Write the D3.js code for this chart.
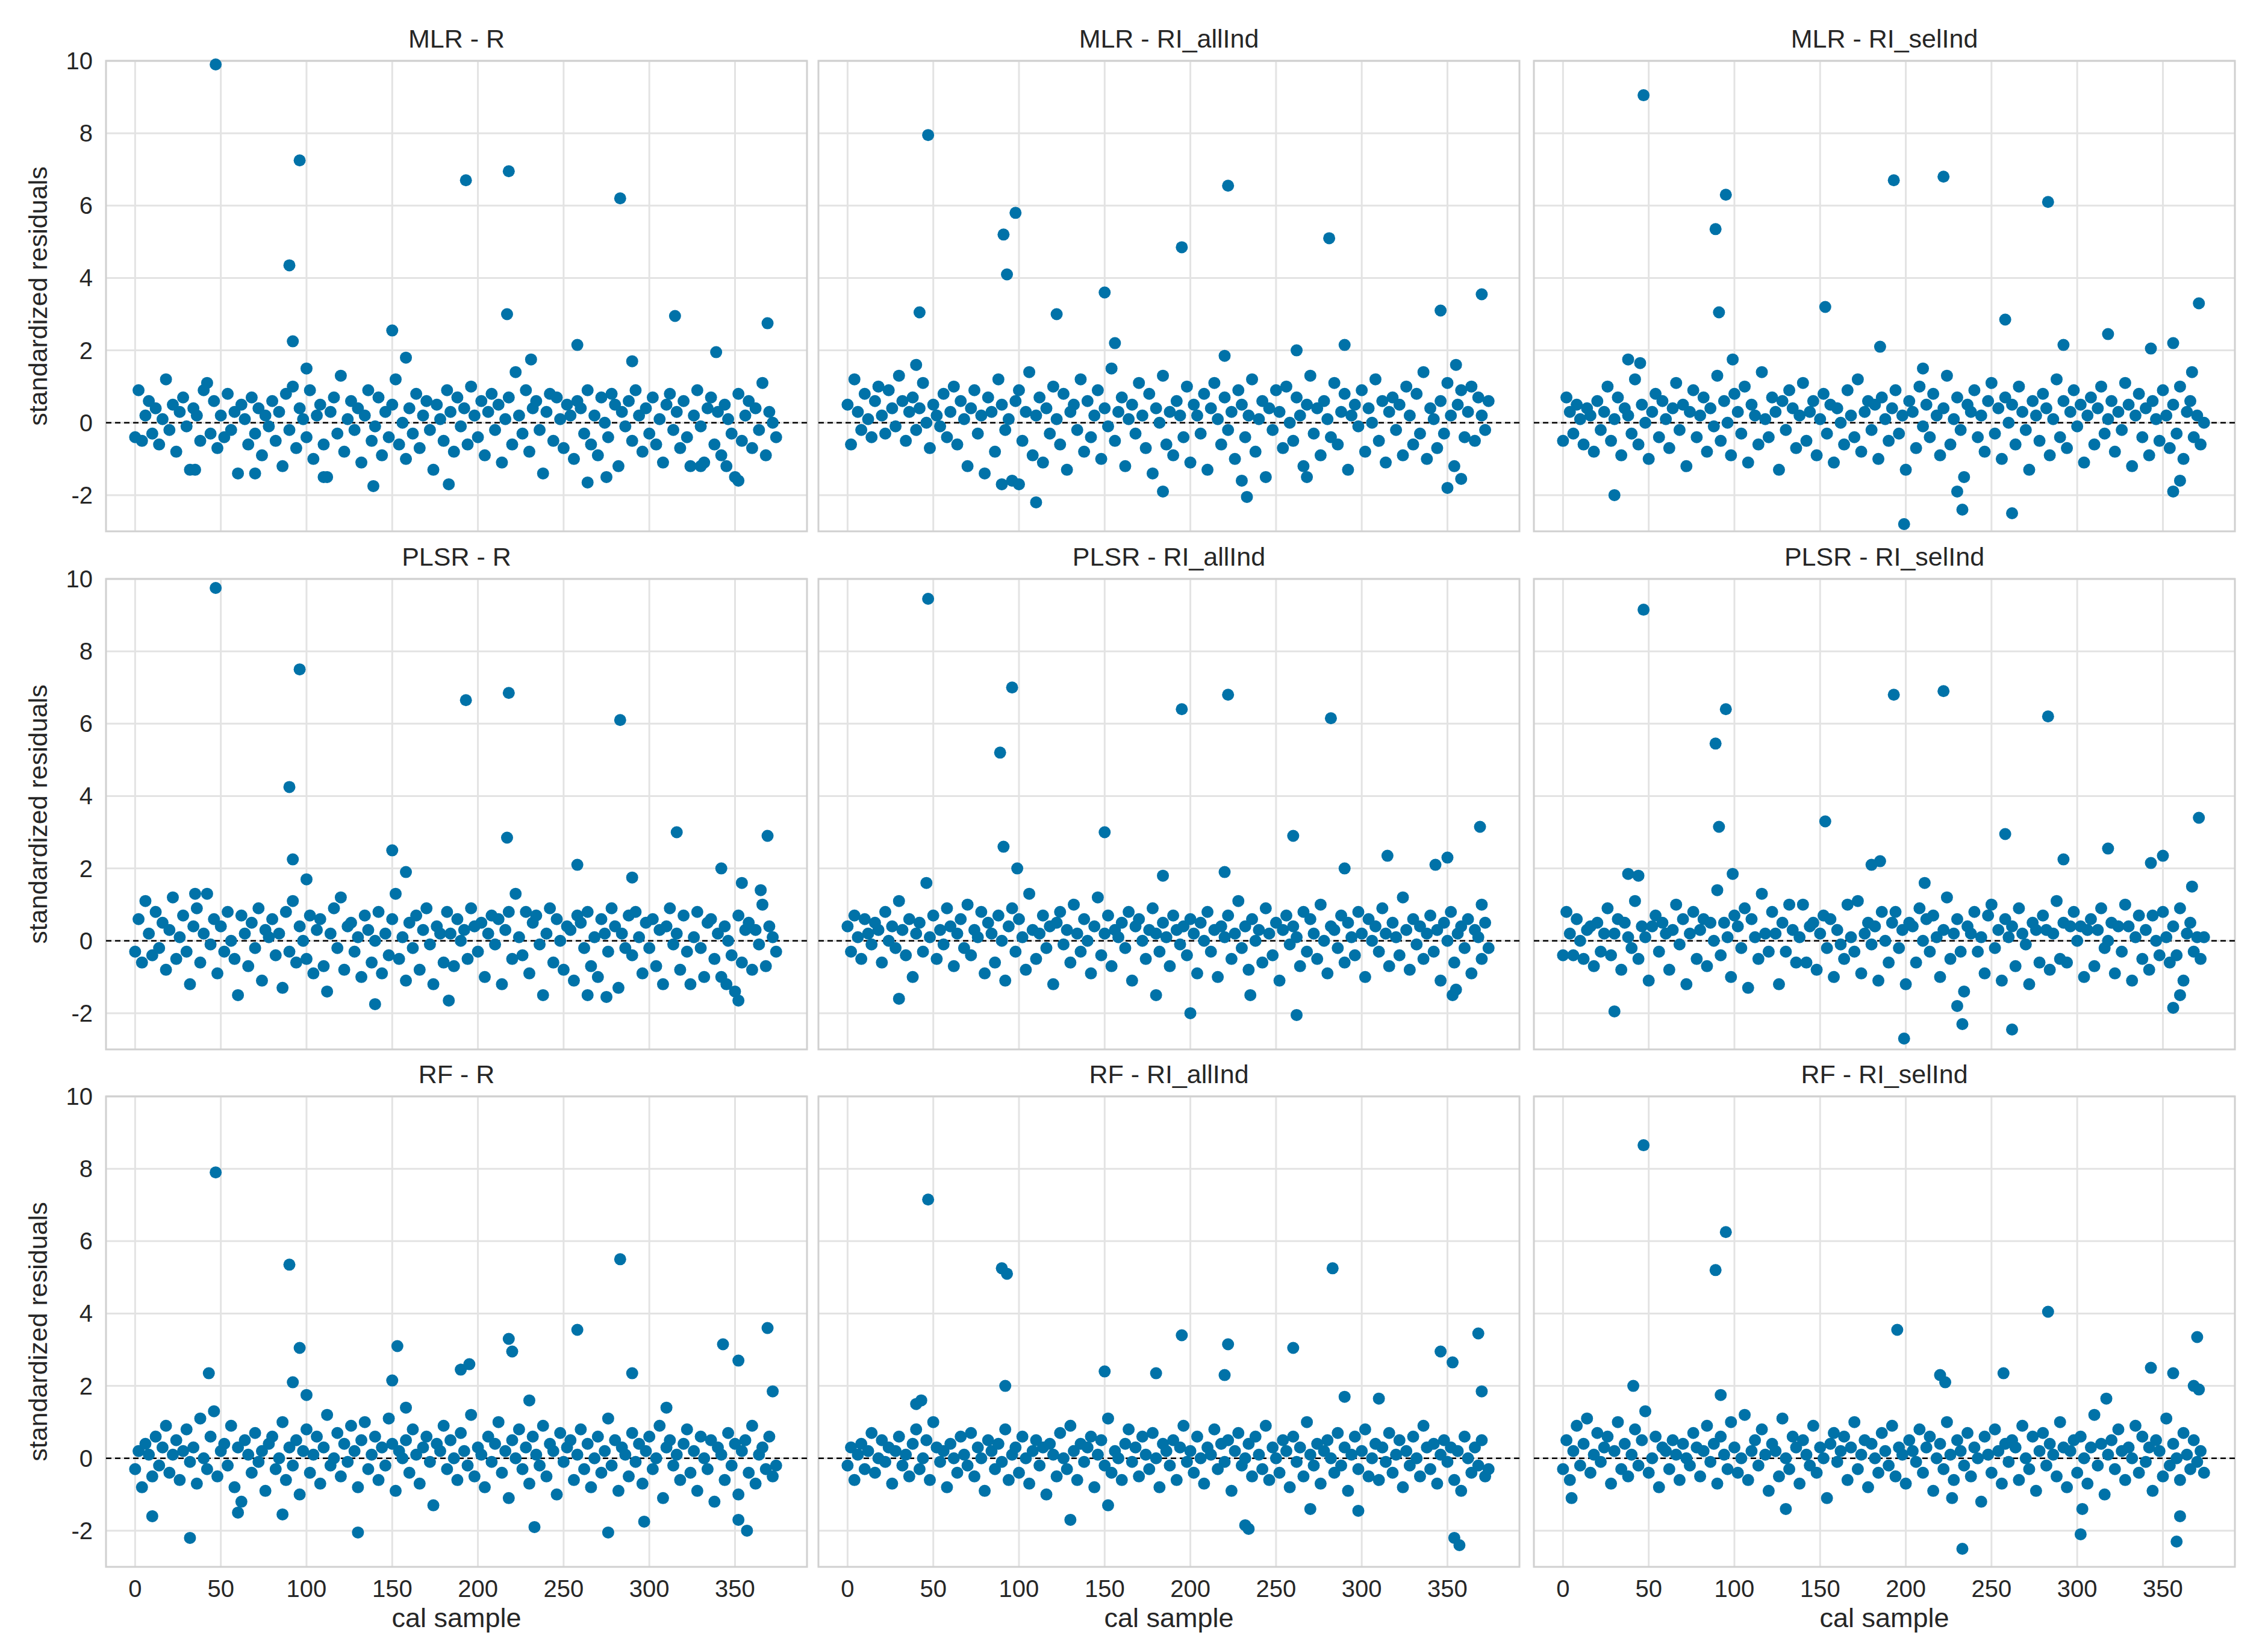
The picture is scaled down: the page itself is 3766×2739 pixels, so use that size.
<!DOCTYPE html>
<html>
<head>
<meta charset="utf-8">
<script src="https://cdn.jsdelivr.net/npm/d3@7"></script>
<style>
  body { margin: 0; background: #fff; }
  text { font-family: "Liberation Sans", Arial, sans-serif; fill: #262626; }
</style>
</head>
<body>
<svg id="chart" width="3766" height="2739"></svg>
<script>
// titles, in grid order
const titles = ["MLR - R", "MLR - RI_allInd", "MLR - RI_selInd",
  "PLSR - R", "PLSR - RI_allInd", "PLSR - RI_selInd",
  "RF - R", "RF - RI_allInd", "RF - RI_selInd"];
const xTicks = [0, 50, 100, 150, 200, 250, 300, 350];
const yTicks = [-2, 0, 2, 4, 6, 8, 10];

// bulk residuals, sample = index * 2
const bulk_MLR_R = [-0.4,0.9,-0.5,0.2,0.6,-0.3,0.4,-0.6,0.1,1.2,-0.2,0.5,-0.8,0.3,0.7,-0.1,-1.3,0.4,0.2,-0.5,0.9,1.1,-0.3,0.6,-0.7,0.2,-0.4,0.8,-0.2,0.3,-1.4,0.5,0.1,-0.6,0.7,-0.3,0.4,-0.9,0.2,-0.1,0.6,-0.5,0.3,-1.2,0.8,-0.2,1.0,-0.7,0.4,0.1,-0.4,0.9,-1.0,0.2,0.5,-0.6,-1.5,0.3,0.7,-0.3,1.3,-0.8,0.1,0.6,-0.2,0.4,-1.1,0.2,0.9,-0.5,-0.1,0.7,-0.9,0.3,-0.4,0.5,1.2,-0.6,0.0,-1.0,0.4,-0.3,0.8,-0.7,0.2,0.6,-0.2,-1.3,0.5,0.1,-0.5,0.9,0.3,-0.8,0.7,-0.1,0.4,-0.6,1.0,0.2,-0.4,0.6,-0.9,0.3,0.8,-0.2,0.5,-1.1,0.1,0.7,-0.6,1.4,0.2,-0.3,0.9,-0.8,0.4,0.6,-0.2,-1.4,0.3,0.8,-0.5,0.7,0.1,-0.7,0.5,0.2,-1.0,0.6,0.4,-0.3,0.9,-0.6,0.2,-0.9,0.7,0.0,-0.4,0.8,0.5,-1.2,0.3,-0.1,0.6,-0.5,0.9,0.2,-0.8,0.4,-0.3,0.7,-0.6,0.1,-1.1,0.5,0.8,-0.2,0.3,-0.7,0.6,-0.4,-1.2,0.2,0.9,-0.1,-1.1,0.4,0.7,-0.6,0.3,-0.9,0.5,0.1,-0.3,-1.5,0.8,-0.5,0.2,0.6,-0.7,0.4,-0.2,1.1,-0.9,0.3,0.0,-0.4];
const bulk_MLR_RIall = [0.5,-0.6,1.2,0.3,-0.2,0.8,0.1,-0.4,0.6,1.0,0.2,-0.3,0.9,0.4,-0.1,1.3,0.6,-0.5,0.3,0.7,-0.2,0.4,1.1,0.0,-0.7,0.5,0.2,-0.1,0.8,-0.4,0.3,1.0,-0.6,0.6,0.1,-1.2,0.4,0.9,-0.3,0.2,-1.4,0.7,0.3,-0.8,1.2,0.5,-0.2,0.1,-1.6,0.6,0.9,-0.5,0.3,1.4,-0.9,0.2,0.7,-1.1,0.4,-0.3,1.0,0.1,-0.6,0.8,-1.3,0.3,0.5,-0.2,1.2,-0.8,0.6,-0.4,0.2,0.9,-1.0,0.4,-0.1,1.5,-0.5,0.3,0.7,-1.2,0.1,0.5,-0.3,1.1,0.2,-0.7,0.8,-1.4,0.4,0.0,1.3,-0.6,0.3,-0.9,0.6,0.2,-0.4,1.0,-1.1,0.5,0.2,-0.3,0.8,-1.3,0.4,1.1,0.1,-0.6,0.7,-0.2,0.3,-1.0,0.9,0.5,-0.4,0.2,1.2,-0.8,0.1,0.6,-1.5,0.4,-0.2,0.9,0.3,-0.7,1.0,0.0,-0.5,0.7,0.2,-1.2,0.5,1.3,-0.3,0.4,-0.9,0.6,0.1,-0.4,1.1,-0.6,0.3,0.8,-1.3,0.2,0.5,-0.1,0.9,-0.8,0.4,0.0,1.2,-0.5,0.6,-1.1,0.3,0.7,-0.2,0.5,-0.9,1.0,0.2,-0.6,0.8,-0.3,1.4,-1.0,0.4,0.1,-0.7,0.6,-0.3,1.1,0.2,-1.2,0.5,0.9,-0.4,0.3,1.0,-0.5,0.7,0.2,-0.2,0.6];
const bulk_MLR_RIsel = [-0.5,0.7,0.3,-0.3,0.5,0.1,-0.6,0.4,0.2,-0.8,0.6,-0.2,0.3,1.0,-0.5,0.1,0.7,-0.9,0.4,0.2,-0.3,1.2,-0.6,0.5,0.0,-1.0,0.3,0.8,-0.4,0.6,0.1,-0.7,0.4,1.1,-0.2,0.5,-1.2,0.3,0.9,-0.4,0.2,0.7,-0.8,0.4,-0.1,1.3,-0.5,0.6,0.0,-0.9,0.8,0.3,-0.3,1.0,-1.1,0.5,0.2,-0.6,1.4,0.1,-0.4,0.7,0.3,-1.3,0.6,-0.2,0.9,0.4,-0.7,0.2,1.1,-0.5,0.3,0.6,-0.9,0.1,0.8,-0.3,0.5,-1.1,0.4,0.0,-0.6,0.9,0.2,-0.4,1.2,-0.8,0.3,0.6,-0.2,0.5,-1.0,0.7,0.1,-0.5,0.4,0.9,-0.3,0.2,-1.3,0.6,0.3,-0.7,1.0,-0.1,0.5,-0.4,0.8,0.2,-0.9,0.4,1.3,-0.6,0.1,0.7,-0.2,-1.5,0.5,0.3,0.9,-0.4,0.2,-0.8,0.6,1.1,-0.3,0.4,-1.0,0.7,0.0,0.5,-0.6,1.0,0.3,-0.2,-1.3,0.6,0.2,-0.5,0.8,0.4,-0.9,0.1,1.2,-0.4,0.6,-0.7,0.3,0.9,-0.1,0.5,-1.1,0.2,0.7,-0.6,0.4,1.0,-0.3,0.1,0.6,-0.8,0.3,-0.2,1.1,0.5,-1.2,0.2,0.8,-0.4,0.4,-0.9,0.6,0.1,-0.5,0.9,0.2,-0.7,0.5,-0.3,1.0,-1.0,0.3,0.6,-0.4,0.2,-0.6,0.0];
const bulk_PLSR_R = [-0.3,0.6,-0.6,1.1,0.2,-0.4,0.8,-0.2,0.5,-0.8,0.3,1.2,-0.5,0.1,0.7,-0.3,-1.2,0.4,0.9,-0.6,0.2,1.3,-0.1,0.6,-0.9,0.4,-0.3,0.8,0.0,-0.5,-1.5,0.7,0.2,-0.7,0.5,-0.2,0.9,-1.1,0.3,0.1,0.6,-0.4,0.2,-1.3,0.8,-0.3,1.1,-0.6,0.4,0.0,-0.5,0.7,-0.9,0.3,0.6,-0.7,-1.4,0.2,0.9,-0.2,1.2,-0.8,0.4,0.5,-0.3,0.1,-1.0,0.7,0.3,-0.6,0.0,0.8,-0.9,0.2,-0.4,0.6,1.3,-0.5,0.1,-1.1,0.5,-0.2,0.7,-0.8,0.3,0.9,-0.1,-1.2,0.4,0.2,-0.6,0.8,0.2,-0.7,0.6,0.0,0.3,-0.5,0.9,0.4,-0.3,0.5,-1.0,0.2,0.7,-0.1,0.6,-1.2,0.3,0.8,-0.5,1.3,0.1,-0.4,0.8,-0.9,0.5,0.7,-0.1,-1.5,0.2,0.9,-0.6,0.6,0.0,-0.8,0.4,0.3,-1.1,0.7,0.5,-0.2,0.8,-0.7,0.1,-1.0,0.6,0.2,-0.3,0.9,0.4,-1.3,0.2,-0.2,0.7,-0.4,0.8,0.1,-0.9,0.5,-0.2,0.6,-0.7,0.3,-1.2,0.4,0.9,-0.1,0.2,-0.8,0.7,-0.3,-1.2,0.1,0.8,-0.2,-1.0,0.5,0.6,-0.5,0.2,-1.0,0.4,0.0,-0.4,-1.4,0.7,-0.6,0.3,0.5,-0.8,0.3,-0.1,1.0,-0.7,0.4,0.1,-0.3];
const bulk_PLSR_RIall = [0.4,-0.3,0.7,0.1,-0.5,0.6,0.2,-0.1,0.5,0.3,-0.6,0.8,0.0,0.4,-0.2,1.1,0.3,-0.4,0.6,-1.0,0.2,0.5,-0.3,1.6,0.1,0.7,-0.5,0.3,-0.1,0.9,0.4,-0.7,0.2,0.6,-0.2,1.0,-0.4,0.3,0.1,0.8,-0.9,0.5,0.2,-0.6,0.7,0.0,-1.1,0.4,0.9,-0.3,0.6,0.1,-0.8,1.3,0.3,-0.5,0.2,0.7,-0.2,0.4,-1.2,0.5,0.8,-0.1,0.3,-0.6,1.0,0.2,-0.3,0.6,0.0,-0.9,0.4,1.2,-0.4,0.2,0.7,-0.7,0.3,0.1,0.5,-0.2,0.8,-1.1,0.4,0.6,0.0,-0.5,0.3,0.9,0.2,-0.3,0.5,0.1,-0.7,0.7,0.3,-0.1,0.4,-0.4,0.6,0.2,-0.9,0.5,0.0,0.8,-0.3,0.3,-1.0,0.4,0.1,0.7,-0.5,0.2,1.1,-0.2,0.4,-0.8,0.6,0.0,0.3,-0.6,0.9,0.2,-0.4,0.5,-1.1,0.3,0.7,-0.1,0.4,0.1,-0.7,0.8,-0.3,0.6,0.2,-0.5,1.0,0.0,-0.9,0.4,0.3,-0.2,0.7,-0.6,0.5,0.1,-0.4,0.8,0.2,-1.0,0.6,0.0,0.4,-0.3,0.9,0.2,-0.7,0.5,0.1,-0.4,1.2,0.3,-0.8,0.6,-0.1,0.4,-0.5,0.2,0.7,-0.3,0.3,-1.1,0.5,0.0,0.8,-0.6,0.2,0.4,-0.2,0.6,-0.9,0.3,0.1,-0.5,0.5,-0.2];
const bulk_PLSR_RIsel = [-0.4,0.8,0.2,-0.4,0.6,0.0,-0.5,0.3,0.4,-0.7,0.5,-0.3,0.2,0.9,-0.4,0.2,0.6,-0.8,0.5,0.1,-0.2,1.1,-0.5,0.4,0.1,-1.1,0.4,0.7,-0.3,0.5,0.2,-0.8,0.3,1.0,-0.1,0.6,-1.2,0.2,0.8,-0.5,0.3,0.6,-0.7,0.5,0.0,1.4,-0.4,0.5,0.1,-1.0,0.7,0.4,-0.2,0.9,-1.3,0.6,0.1,-0.5,1.3,0.2,-0.3,0.8,0.2,-1.2,0.5,-0.3,1.0,0.3,-0.6,0.1,1.0,-0.6,0.4,0.5,-0.8,0.2,0.7,-0.2,0.6,-1.0,0.3,-0.1,-0.5,1.0,0.1,-0.3,1.1,-0.9,0.2,0.5,-0.1,0.4,-1.1,0.8,0.0,-0.6,0.5,0.8,-0.2,0.3,-1.2,0.5,0.4,-0.6,0.9,0.0,0.6,-0.3,0.7,0.1,-1.0,0.3,1.2,-0.5,0.2,0.6,-0.3,-1.4,0.4,0.2,0.8,-0.3,0.1,-0.9,0.7,1.0,-0.2,0.3,-1.1,0.6,0.1,0.4,-0.7,0.9,0.2,-0.1,-1.2,0.5,0.3,-0.6,0.7,0.3,-0.8,0.2,1.1,-0.5,0.5,-0.6,0.4,0.8,0.0,0.4,-1.0,0.3,0.6,-0.7,0.3,0.9,-0.2,0.0,0.5,-0.9,0.4,-0.3,1.0,0.4,-1.1,0.1,0.7,-0.5,0.3,-0.8,0.7,0.0,-0.4,0.8,0.1,-0.6,0.4,-0.4,0.9,-1.1,0.2,0.5,-0.3,0.1,-0.5,0.1];
const bulk_RF_R = [-0.3,0.2,-0.8,0.4,0.1,-0.5,0.6,-0.2,0.3,0.9,-0.4,0.1,0.5,-0.6,0.2,0.8,-0.1,0.3,-0.7,1.1,0.0,-0.3,0.6,1.3,-0.5,0.2,0.4,-0.2,0.9,-0.8,0.3,-1.2,0.5,0.1,-0.4,0.7,-0.1,0.2,-0.9,0.4,0.6,-0.3,0.0,1.0,-0.6,0.3,-0.2,0.5,-1.0,0.2,0.8,-0.4,0.1,0.6,-0.7,0.3,1.2,-0.2,0.0,0.7,-0.5,0.4,-0.1,0.9,0.2,-0.8,0.5,1.0,-0.3,0.1,0.6,-0.6,0.3,-0.2,1.1,0.4,-0.9,0.2,0.0,0.5,-0.4,0.8,0.1,-0.7,0.3,0.6,-0.1,-1.3,0.4,0.2,0.9,-0.3,0.5,0.0,-0.6,0.7,0.2,-0.2,1.2,-0.5,0.3,0.1,-0.8,0.6,-0.1,0.4,1.0,-0.4,0.2,-1.1,0.5,0.0,0.8,-0.3,0.3,-0.7,0.6,0.1,-0.2,0.9,-0.5,0.4,0.2,-1.0,0.7,-0.1,0.3,0.5,-0.6,0.1,0.8,-0.3,0.4,-0.8,0.0,0.6,-0.4,0.2,1.1,-0.2,0.5,-0.9,0.3,0.1,-0.5,0.7,-0.1,0.4,-0.7,0.2,0.6,-0.3,0.0,0.9,-1.1,0.3,0.5,-0.2,0.1,-0.6,0.4,0.8,-0.4,0.2,-0.9,0.6,0.0,-0.3,0.5,-1.2,0.3,0.1,-0.6,0.7,-0.2,0.4,-1.0,0.2,0.5,-0.4,0.9,-0.7,0.1,0.3,-0.3,0.6,-0.5,-0.2];
const bulk_RF_RIall = [-0.2,0.3,-0.6,0.1,0.4,-0.3,0.2,0.7,-0.4,0.0,0.5,-0.1,0.3,-0.7,0.2,0.6,-0.2,0.1,-0.5,0.4,0.8,-0.3,0.0,0.5,-0.6,1.0,0.3,-0.1,0.2,-0.8,0.4,0.0,-0.4,0.6,0.1,-0.2,0.7,-0.5,0.3,0.0,-0.9,0.5,0.2,-0.3,0.4,-0.1,0.8,-0.6,0.1,0.3,-0.4,0.6,0.0,-0.7,0.2,0.5,-0.2,0.3,-1.0,0.4,0.1,-0.5,0.7,0.0,-0.3,0.9,0.2,-0.6,0.4,-0.1,0.3,0.6,-0.8,0.1,0.5,-0.2,1.1,-0.4,0.2,0.0,-0.6,0.4,0.8,-0.1,0.3,-0.5,0.6,0.1,-0.3,0.7,0.0,-0.8,0.4,0.2,-0.2,0.5,-0.6,0.3,0.9,-0.1,0.2,-0.4,0.6,0.0,-0.7,0.3,0.1,0.8,-0.3,0.4,-0.1,0.5,-0.9,0.2,0.7,-0.2,0.0,0.4,-0.5,0.6,0.1,-0.3,0.9,-0.6,0.3,0.0,-0.4,0.5,0.2,-0.8,0.6,-0.1,0.3,-0.5,1.0,0.1,-0.2,0.4,-0.7,0.2,0.5,0.0,-0.4,0.7,-0.2,0.3,-0.9,0.1,0.6,-0.3,0.2,0.8,-0.5,0.0,0.4,-0.6,0.3,-0.1,0.7,-0.4,0.1,0.5,-0.8,0.2,-0.2,0.6,0.0,-0.5,0.9,0.3,-0.3,0.4,-0.7,0.1,0.5,-0.1,0.3,-0.6,0.2,-0.9,0.6,0.0,-0.4,0.3,-0.2,0.5,-0.5,-0.3];
const bulk_RF_RIsel = [-0.3,0.5,-0.6,0.2,0.9,-0.2,0.4,1.1,-0.4,0.1,0.7,-0.1,0.3,0.6,-0.7,0.2,1.0,-0.3,0.4,-0.5,0.1,0.8,-0.2,0.5,1.3,-0.4,0.0,0.6,-0.8,0.3,0.2,-0.3,0.5,0.1,-0.6,0.4,0.0,-0.2,0.7,0.3,-0.5,0.2,0.9,-0.1,0.4,-0.7,0.6,0.1,-0.3,1.0,0.3,-0.4,0.0,1.2,-0.6,0.2,0.5,-0.2,0.8,0.1,-0.9,0.4,0.2,-0.5,1.1,0.0,-0.3,0.6,0.3,-0.7,0.5,0.1,-0.2,0.9,-0.4,0.3,0.0,-1.1,0.4,0.7,-0.1,0.2,0.6,-0.6,0.3,1.0,-0.3,0.1,0.5,-0.8,0.4,0.0,-0.4,0.7,0.2,-0.2,0.9,-0.5,0.3,0.1,-0.7,0.5,0.2,-0.1,0.8,-0.4,0.3,0.6,-0.9,0.0,0.4,-0.3,1.0,0.1,-0.6,0.5,0.2,-0.2,0.7,-0.5,0.3,0.0,-1.2,0.6,0.1,-0.4,0.8,0.2,-0.7,0.4,-0.1,0.5,0.3,-0.6,0.9,0.0,-0.3,0.6,-0.9,0.2,0.7,-0.2,0.4,0.1,-0.5,1.0,0.3,-0.8,0.2,0.5,-0.4,0.6,0.0,-0.7,0.3,1.2,-0.2,0.4,-1.0,0.1,0.5,-0.3,0.8,0.2,-0.6,0.3,0.0,0.9,-0.4,0.6,-0.1,0.3,-0.9,0.5,0.2,-0.5,1.1,-0.2,0.4,0.0,-0.6,0.7,0.1,-0.3,0.5,-0.1,0.2,-0.4];

// stand-out samples [sample, residual]
const out_MLR_R = [[47,9.9],[90,4.35],[92,2.25],[96,7.25],[193,6.7],[218,6.95],[217,3.0],[283,6.2],[315,2.95],[150,2.55],[258,2.15],[339,1.95],[369,2.75],[290,1.7],[231,1.75],[158,1.8],[100,1.5],[139,-1.75],[183,-1.7],[264,-1.65],[352,-1.6],[35,-1.3],[70,-1.4],[110,-1.5],[275,-1.5],[330,-1.2],[345,-1.2]];
const out_MLR_RIall = [[47,7.95],[91,5.2],[93,4.1],[98,5.8],[42,3.05],[122,3.0],[150,3.6],[156,2.2],[195,4.85],[222,6.55],[281,5.1],[290,2.15],[262,2.0],[346,3.1],[370,3.55],[355,1.6],[110,-2.2],[184,-1.9],[233,-2.05],[100,-1.7],[90,-1.7],[230,-1.6],[268,-1.5],[350,-1.8],[358,-1.55],[220,1.85],[40,1.6]];
const out_MLR_RIsel = [[47,9.05],[89,5.35],[91,3.05],[95,6.3],[99,1.75],[38,1.75],[45,1.65],[153,3.2],[193,6.7],[222,6.8],[185,2.1],[283,6.1],[292,2.15],[258,2.85],[318,2.45],[343,2.05],[356,2.2],[371,3.3],[367,1.4],[30,-2.0],[199,-2.8],[230,-1.9],[233,-2.4],[262,-2.5],[356,-1.9],[360,-1.6],[210,1.5]];
const out_PLSR_R = [[47,9.75],[90,4.25],[92,2.25],[96,7.5],[100,1.7],[193,6.65],[218,6.85],[217,2.85],[283,6.1],[290,1.75],[150,2.5],[158,1.9],[258,2.1],[316,3.0],[342,2.0],[354,1.6],[369,2.9],[365,1.4],[35,1.3],[140,-1.75],[183,-1.65],[264,-1.5],[275,-1.55],[352,-1.65],[345,-1.2]];
const out_PLSR_RIall = [[47,9.45],[89,5.2],[91,2.6],[96,7.0],[99,2.0],[150,3.0],[184,1.8],[195,6.4],[222,6.8],[220,1.9],[260,2.9],[282,6.15],[290,2.0],[315,2.35],[343,2.1],[350,2.3],[369,3.15],[30,-1.6],[200,-2.0],[262,-2.05],[353,-1.5],[355,-1.35],[180,-1.5],[235,-1.5],[370,1.0]];
const out_PLSR_RIsel = [[47,9.15],[89,5.45],[91,3.15],[95,6.4],[99,1.85],[38,1.85],[44,1.8],[153,3.3],[193,6.8],[222,6.9],[185,2.2],[180,2.1],[283,6.2],[292,2.25],[258,2.95],[318,2.55],[343,2.15],[350,2.35],[371,3.4],[367,1.5],[30,-1.95],[199,-2.7],[230,-1.8],[233,-2.3],[262,-2.45],[356,-1.85],[360,-1.5],[211,1.6]];
const out_RF_R = [[47,7.9],[43,2.35],[90,5.35],[92,2.1],[96,3.05],[100,1.75],[150,2.15],[153,3.1],[158,1.4],[190,2.45],[195,2.6],[218,3.3],[220,2.95],[230,1.6],[258,3.55],[283,5.5],[290,2.35],[310,1.4],[343,3.15],[352,2.7],[369,3.6],[372,1.85],[10,-1.6],[32,-2.2],[130,-2.05],[233,-1.9],[276,-2.05],[297,-1.75],[352,-1.7],[357,-2.0],[86,-1.55],[60,-1.5]];
const out_RF_RIall = [[47,7.15],[90,5.25],[93,5.1],[92,2.0],[150,2.4],[180,2.35],[195,3.4],[220,2.3],[222,3.15],[260,3.05],[283,5.25],[290,1.7],[310,1.65],[346,2.95],[353,2.65],[368,3.45],[370,1.85],[40,1.5],[43,1.6],[130,-1.7],[232,-1.85],[234,-1.95],[354,-2.2],[357,-2.4],[152,-1.3],[298,-1.45],[270,-1.4]];
const out_RF_RIsel = [[47,8.65],[41,2.0],[89,5.2],[95,6.25],[92,1.75],[195,3.55],[220,2.3],[223,2.1],[257,2.35],[283,4.05],[317,1.65],[343,2.5],[356,2.35],[370,3.35],[368,2.0],[371,1.9],[5,-1.1],[233,-2.5],[302,-2.1],[303,-1.4],[358,-2.3],[360,-1.6],[227,-1.1],[130,-1.4]];

const bulks = [bulk_MLR_R, bulk_MLR_RIall, bulk_MLR_RIsel, bulk_PLSR_R, bulk_PLSR_RIall, bulk_PLSR_RIsel, bulk_RF_R, bulk_RF_RIall, bulk_RF_RIsel];
const outs = [out_MLR_R, out_MLR_RIall, out_MLR_RIsel, out_PLSR_R, out_PLSR_RIall, out_PLSR_RIsel, out_RF_R, out_RF_RIall, out_RF_RIsel];

const svg = d3.select("#chart");
const colX = [176, 1359, 2547];
const rowY = [101, 961, 1820];
const pw = 1164, ph = 781;

const x = d3.scaleLinear().domain([-17, 392]).range([0, pw]);
const y = d3.scaleLinear().domain([-3, 10]).range([ph, 0]);

titles.forEach((title, i) => {
  const r = Math.floor(i / 3), c = i % 3;
  const g = svg.append("g").attr("transform", `translate(${colX[c]},${rowY[r]})`);

  // grid
  g.selectAll(".gx").data(xTicks).join("line")
    .attr("x1", d => x(d)).attr("x2", d => x(d)).attr("y1", 0).attr("y2", ph)
    .attr("stroke", "#e3e3e3").attr("stroke-width", 3);
  g.selectAll(".gy").data(yTicks).join("line")
    .attr("x1", 0).attr("x2", pw).attr("y1", d => y(d)).attr("y2", d => y(d))
    .attr("stroke", "#e3e3e3").attr("stroke-width", 3);

  g.append("rect").attr("width", pw).attr("height", ph)
    .attr("fill", "none").attr("stroke", "#d0d0d0").attr("stroke-width", 3);

  g.append("line").attr("x1", 0).attr("x2", pw).attr("y1", y(0)).attr("y2", y(0))
    .attr("stroke", "#000").attr("stroke-width", 2.5).attr("stroke-dasharray", "9,6");

  const pts = bulks[i].map((v, k) => [k * 2, v]).concat(outs[i]);
  g.selectAll("circle").data(pts).join("circle")
    .attr("cx", d => x(d[0])).attr("cy", d => y(d[1])).attr("r", 10)
    .attr("fill", "#0072a8");

  g.append("text").attr("x", pw / 2).attr("y", -22).attr("text-anchor", "middle")
    .attr("font-size", 43).text(title);

  if (c === 0) {
    g.selectAll(".yl").data(yTicks).join("text")
      .attr("x", -22).attr("y", d => y(d)).attr("dy", "0.35em")
      .attr("text-anchor", "end").attr("font-size", 40).text(d => d);
    g.append("text").attr("transform", `translate(-98,${ph / 2}) rotate(-90)`)
      .attr("text-anchor", "middle").attr("font-size", 43).text("standardized residuals");
  }
  if (r === 2) {
    g.selectAll(".xl").data(xTicks).join("text")
      .attr("x", d => x(d)).attr("y", ph + 50).attr("text-anchor", "middle")
      .attr("font-size", 40).text(d => d);
    g.append("text").attr("x", pw / 2).attr("y", ph + 100).attr("text-anchor", "middle")
      .attr("font-size", 45).text("cal sample");
  }
});
</script>
</body>
</html>
